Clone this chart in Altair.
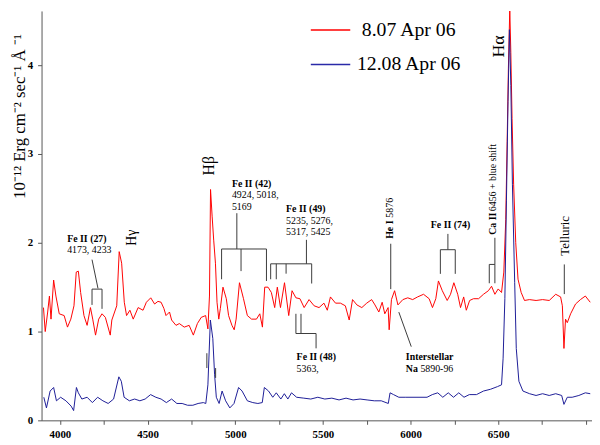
import altair as alt
import pandas as pd

# ---- spectrum 8.07 Apr 06 (red) ----
red_wl = [3906,3916,3930,3940,3949,3964,3977,3996,4024,4043,4062,4080,4093,4105,4118,4137,4155,4174,4187,4203,
          4221,4240,4259,4287,4296,4324,4338,4352,4367,4380,4399,4418,4446,4474,4493,4518,4540,4559,4577,4593,
          4605,4625,4637,4662,4681,4709,4737,4761,4784,4806,4831,4844,4853,4859,4868,4877,4887,4896,4906,4915,
          4930,4949,4962,4981,4994,5005,5024,5047,5069,5093,5121,5140,5155,5168,5187,5206,5225,5240,5258,5281,
          5305,5324,5346,5369,5393,5421,5450,5478,5506,5525,5543,5572,5600,5628,5650,5669,5694,5722,5750,5778,
          5797,5819,5838,5853,5872,5878,5891,5909,5928,5956,5984,6012,6040,6074,6106,6125,6144,6159,6181,6209,
          6228,6247,6269,6285,6303,6318,6337,6359,6388,6416,6444,6462,6481,6500,6519,6532,6543,6551,6558,6566,
          6572,6579,6588,6600,6613,6631,6650,6678,6716,6753,6791,6828,6856,6866,6875,6884,6894,6913,6941,6969,
          6997,7025]
red_fx = [1.27,1.00,1.22,1.40,1.14,1.58,1.40,1.20,1.18,1.05,1.14,1.29,1.67,1.68,1.44,1.18,1.07,1.27,1.14,0.96,
          1.14,1.20,1.16,0.96,1.13,1.29,1.90,1.77,1.33,1.18,1.24,1.14,1.27,1.24,1.33,1.38,1.31,1.34,1.33,1.26,
          1.18,1.22,1.13,1.07,1.09,1.05,1.07,0.96,1.09,1.16,1.18,1.03,1.40,2.60,2.30,2.03,1.77,1.33,1.14,1.26,
          1.50,1.37,1.18,1.07,1.02,1.14,1.55,1.37,1.18,1.14,1.14,1.20,1.05,1.50,1.50,1.44,1.27,1.50,1.27,1.55,
          1.18,1.46,1.38,1.37,1.27,1.36,1.29,1.27,1.32,1.24,1.39,1.32,1.32,1.29,1.13,1.36,1.30,1.27,1.32,1.36,
          1.30,1.22,1.33,1.20,1.27,1.02,1.36,1.46,1.30,1.36,1.38,1.36,1.39,1.42,1.37,1.27,1.37,1.57,1.46,1.35,
          1.42,1.55,1.42,1.27,1.39,1.24,1.35,1.37,1.37,1.42,1.46,1.51,1.42,1.48,1.44,1.67,2.26,3.14,3.96,4.63,
          4.14,3.40,2.66,2.00,1.59,1.44,1.35,1.36,1.35,1.36,1.35,1.42,1.39,1.29,0.81,1.14,1.10,1.20,1.31,1.36,
          1.40,1.33]

# ---- spectrum 12.08 Apr 06 (blue) ----
blue_wl = [3908,3923,3944,3964,3980,4004,4034,4064,4078,4094,4105,4125,4155,4185,4215,4245,4275,4306,4336,4350,
           4366,4396,4426,4456,4486,4517,4547,4577,4607,4637,4667,4697,4728,4758,4788,4818,4832,4844,4858,4872,
           4882,4892,4908,4925,4945,4969,4993,5019,5039,5069,5100,5129,5154,5166,5190,5214,5234,5260,5280,5300,
           5321,5350,5391,5431,5471,5511,5551,5592,5632,5672,5712,5752,5793,5833,5873,5883,5903,5933,5973,6014,
           6054,6094,6124,6155,6184,6215,6245,6275,6305,6335,6376,6416,6456,6496,6519,6528,6538,6547,6556,6564,
           6572,6581,6594,6603,6618,6641,6679,6716,6753,6791,6828,6862,6875,6894,6922,6960,6997,7025]
blue_fx = [0.26,0.14,0.33,0.37,0.22,0.26,0.22,0.16,0.11,0.37,0.31,0.24,0.26,0.20,0.26,0.22,0.19,0.24,0.49,0.44,
           0.26,0.22,0.24,0.22,0.24,0.29,0.26,0.24,0.20,0.24,0.19,0.19,0.17,0.17,0.19,0.20,0.19,0.40,1.13,0.92,
           0.52,0.26,0.19,0.33,0.22,0.14,0.19,0.37,0.33,0.22,0.20,0.19,0.20,0.37,0.33,0.26,0.31,0.24,0.30,0.24,
           0.31,0.26,0.25,0.24,0.26,0.24,0.25,0.23,0.25,0.23,0.24,0.23,0.22,0.22,0.19,0.31,0.29,0.26,0.26,0.26,
           0.26,0.26,0.29,0.31,0.26,0.31,0.26,0.31,0.26,0.29,0.29,0.33,0.35,0.38,0.40,0.70,1.37,2.48,3.59,4.40,
           3.77,2.66,1.55,0.81,0.44,0.33,0.30,0.28,0.30,0.28,0.30,0.28,0.18,0.26,0.26,0.28,0.31,0.30]

# ---- annotation line segments (wavelength / flux units) ----
seg_x  = [4183,4183,4183,4240, 5009,4922,4922,5033,5178, 5406,5202,5202,5234,5290,5436,
          5346,5375,5346,5461, 5887, 5933, 6213,6170,6170,6255, 6481,6449,6449,6481, 6877, 4838,4888]
seg_x2 = [4217,4240,4183,4240, 5009,5178,4922,5033,5178, 5406,5436,5202,5234,5290,5436,
          5346,5375,5461,5461, 5887, 6004, 6213,6255,6170,6255, 6481,6481,6449,6481, 6877, 4838,4888]
seg_y  = [1.81,1.478,1.478,1.478, 2.333,1.93,1.93,1.93,1.93, 2.033,1.763,1.763,1.763,1.763,1.763,
          1.20,1.20,0.978,0.978, 1.989, 1.219, 2.10,1.922,1.922,1.922, 2.056,1.756,1.756,1.756, 1.756, 0.756,0.589]
seg_y2 = [1.486,1.478,1.30,1.256, 1.93,1.93,1.589,1.681,1.57, 1.763,1.763,1.589,1.589,1.652,1.541,
          0.978,0.978,0.978,0.811, 1.478, 0.83, 1.922,1.922,1.65,1.65, 1.756,1.756,1.544,1.544, 1.422, 0.589,0.478]

# ---- labels ----
bold_txt = ["Fe II (27)", "Fe II (42)", "Fe II (49)", "Fe II (48)", "Interstellar", "Na"]
bold_wl  = [4041, 4981, 5290, 5350, 5973, 5973]
bold_fx  = [2.011, 2.633, 2.344, 0.678, 0.678, 0.544]

reg_txt = ["4173, 4233", "4924, 5018,", "5169", "5235, 5276,", "5317, 5425", "5363,", "5890-96"]
reg_wl  = [4041, 4981, 4981, 5290, 5290, 5350, 6056]
reg_fx  = [1.889, 2.50, 2.367, 2.217, 2.089, 0.544, 0.544]

rotb_txt = ["He I", "Ca II"]
rotb_wl  = [5881, 6472]
rotb_fx  = [2.044, 2.089]

rotr_txt = ["5876", "6456 + blue shift"]
rotr_wl  = [5881, 6472]
rotr_fx  = [2.283, 2.356]

big_txt  = ["Hα", "Hβ", "Hγ", "Telluric"]
big_wl   = [6506, 4851, 4413, 6883]
big_fx   = [4.211, 2.867, 2.056, 2.078]
big_size = [18, 16, 14, 13]

leg_names = ["8.07 Apr 06", "12.08 Apr 06"]
leg_colors = ["#ff0000", "#2a2aa8"]
leg_x1 = [5431, 5431]
leg_x2 = [5656, 5656]
leg_fx = [4.397, 4.007]
leg_tx = [5722, 5694]

FONT = "Liberation Serif"
xs = alt.Scale(domain=[3895, 7035], nice=False, zero=False)
ys = alt.Scale(domain=[0, 4.611], nice=False, zero=False)

xaxis = alt.Axis(values=list(range(4000, 7001, 250)), format="d",
                 labelExpr="datum.value % 500 == 0 && datum.value < 7000 ? datum.label : ''",
                 title=None, grid=False, tickSize=4, tickColor="#555555", domainColor="#555555",
                 labelFont=FONT, labelFontWeight="bold", labelFontSize=11, labelColor="black",
                 labelPadding=4, labelFlush=False, labelOverlap=False)
yaxis = alt.Axis(values=[0, 0.5, 1, 1.5, 2, 2.5, 3, 3.5, 4, 4.5], format="d",
                 labelExpr="datum.value % 1 == 0 ? datum.label : ''",
                 title="10⁻¹² Erg cm⁻² sec⁻¹ Å ⁻¹", titleFont=FONT, titleFontSize=17,
                 titleFontWeight="normal", titleColor="black", titleAngle=270,
                 titleAlign="left", titleBaseline="middle", titleX=-22, titleY=190,
                 grid=False, tickSize=4, tickColor="#555555", domainColor="#555555",
                 labelFont=FONT, labelFontWeight="bold", labelFontSize=11, labelColor="black",
                 labelPadding=5, labelOverlap=False)


def X(field):
    return alt.X(field, type="quantitative", scale=xs, axis=xaxis)


def Y(field):
    return alt.Y(field, type="quantitative", scale=ys, axis=yaxis)


red = pd.DataFrame({"wl": red_wl, "flux": red_fx})
blue = pd.DataFrame({"wl": blue_wl, "flux": blue_fx})

red_line = alt.Chart(red).mark_line(color="#ff0000", strokeWidth=1, clip=True).encode(
    x=X("wl"), y=Y("flux"))
blue_line = alt.Chart(blue).mark_line(color="#1c1c96", strokeWidth=1, clip=True).encode(
    x=X("wl"), y=Y("flux"))

segs = pd.DataFrame({"x": seg_x, "x2": seg_x2, "y": seg_y, "y2": seg_y2})
seg_layer = alt.Chart(segs).mark_rule(color="#3a3a3a", strokeWidth=1).encode(
    x=X("x"), x2="x2:Q", y=Y("y"), y2="y2:Q")


def tlayer(txt, wl, fx, **kw):
    df = pd.DataFrame({"t": txt, "wl": wl, "fx": fx})
    return alt.Chart(df).mark_text(font=FONT, color="black", **kw).encode(
        x=X("wl"), y=Y("fx"), text="t:N")


bold_layer = tlayer(bold_txt, bold_wl, bold_fx, fontSize=10, fontWeight="bold", align="left", baseline="alphabetic")
fe74_layer = tlayer(["Fe II (74)"], [6228], [2.167], fontSize=10, fontWeight="bold", align="center", baseline="alphabetic")
reg_layer = tlayer(reg_txt, reg_wl, reg_fx, fontSize=10, align="left", baseline="alphabetic")
rotb_layer = tlayer(rotb_txt, rotb_wl, rotb_fx, fontSize=10, fontWeight="bold", angle=270, align="left", baseline="middle")
rotr_layer = tlayer(rotr_txt, rotr_wl, rotr_fx, fontSize=10, angle=270, align="left", baseline="middle")

big_df = pd.DataFrame({"t": big_txt, "wl": big_wl, "fx": big_fx, "s": big_size})
big_layer = alt.Chart(big_df).mark_text(font=FONT, color="black", angle=270, align="center", baseline="middle").encode(
    x=X("wl"), y=Y("fx"), text="t:N", size=alt.Size("s:Q", scale=None, legend=None))

leg_df = pd.DataFrame({"name": leg_names, "c": leg_colors, "x1": leg_x1, "x2": leg_x2, "fx": leg_fx, "tx": leg_tx})
leg_lines = alt.Chart(leg_df).mark_rule(strokeWidth=1.5).encode(
    x=X("x1"), x2="x2:Q", y=Y("fx"), color=alt.Color("c:N", scale=None, legend=None))
leg_text = alt.Chart(leg_df).mark_text(font=FONT, fontSize=20, color="black", align="left", baseline="middle").encode(
    x=X("tx"), y=Y("fx"), text="name:N")

chart = alt.layer(red_line, blue_line, seg_layer, bold_layer, fe74_layer, reg_layer, rotb_layer,
                  rotr_layer, big_layer, leg_lines, leg_text).properties(
    width=558, height=415, autosize="none",
    padding={"left": 34, "top": 0, "right": 0, "bottom": 22},
    background="white",
).configure_view(stroke=None)

chart.save("out.html", embed_options={"renderer": "svg", "actions": False})
